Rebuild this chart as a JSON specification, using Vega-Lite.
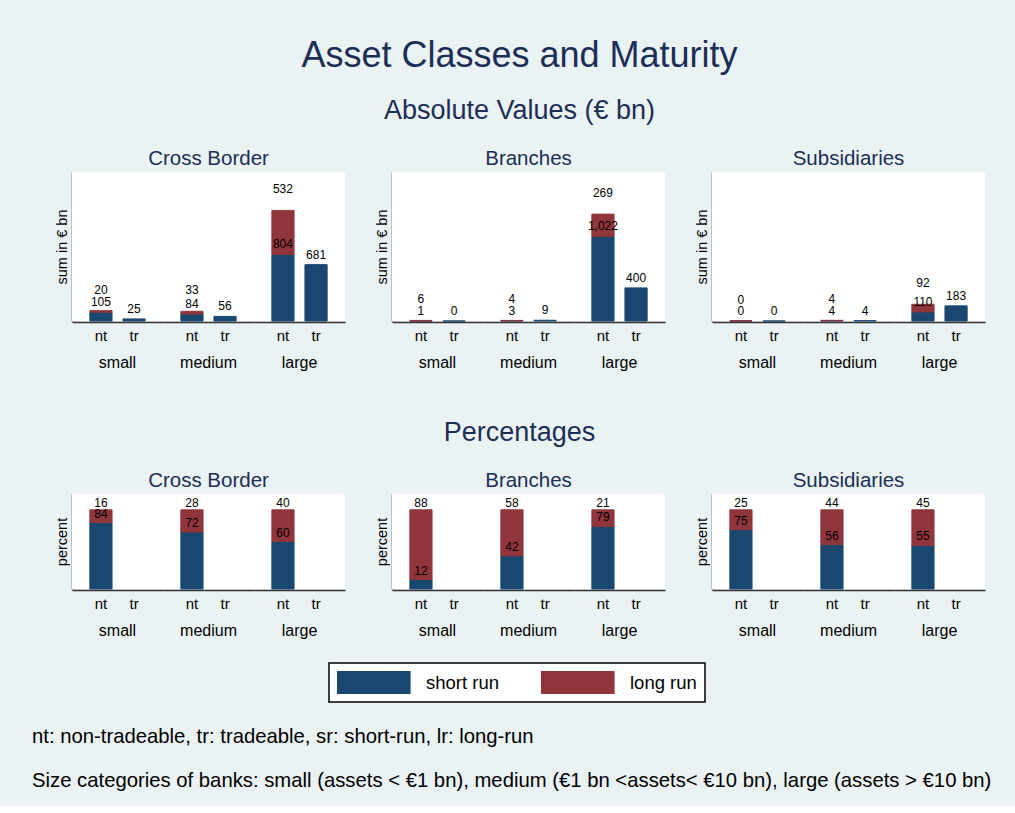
{
  "$schema": "https://vega.github.io/schema/vega-lite/v6.json",
  "background": "#EAF2F3",
  "padding": {"left": 32, "top": 37, "right": 30, "bottom": 14},
  "config": {
    "font": "Liberation Sans",
    "view": {"fill": "white", "stroke": null},
    "title": {"color": "#1C2E55", "fontWeight": "normal", "font": "Liberation Sans", "anchor": "middle"},
    "axis": {"domainColor": "#333333", "domainWidth": 1.5, "ticks": false, "grid": false, "labelColor": "black", "titleColor": "black", "titleFontWeight": "normal", "labelFont": "Liberation Sans", "titleFont": "Liberation Sans"},
    "axisX": {"labelFontSize": 15, "labelAngle": 0, "labelPadding": 6},
    "axisY": {"labels": false, "titleFontSize": 14.5, "titlePadding": 3},
    "header": {"labelFontSize": 16, "labelColor": "black", "labelPadding": 12, "labelFont": "Liberation Sans"},
    "legend": {"orient": "none", "legendX": 257, "legendY": 491, "direction": "horizontal", "fillColor": "white", "strokeColor": "black", "strokeWidth": 1.5, "padding": 8, "symbolType": "M-1,-1H5.4V1H-1Z", "symbolSize": 529, "symbolStrokeWidth": 0, "symbolOpacity": 1, "labelFontSize": 18.5, "labelColor": "black", "labelOffset": 66, "columnPadding": 41, "labelFont": "Liberation Sans"}
  },
  "datasets": {
    "abs": [
      {"panel": "Cross Border", "size": "small", "type": "nt", "run": "short run", "ord": 1, "value": 105},
      {"panel": "Cross Border", "size": "small", "type": "nt", "run": "long run", "ord": 2, "value": 20},
      {"panel": "Cross Border", "size": "small", "type": "tr", "run": "short run", "ord": 1, "value": 25},
      {"panel": "Cross Border", "size": "medium", "type": "nt", "run": "short run", "ord": 1, "value": 84},
      {"panel": "Cross Border", "size": "medium", "type": "nt", "run": "long run", "ord": 2, "value": 33},
      {"panel": "Cross Border", "size": "medium", "type": "tr", "run": "short run", "ord": 1, "value": 56},
      {"panel": "Cross Border", "size": "large", "type": "nt", "run": "short run", "ord": 1, "value": 804},
      {"panel": "Cross Border", "size": "large", "type": "nt", "run": "long run", "ord": 2, "value": 532},
      {"panel": "Cross Border", "size": "large", "type": "tr", "run": "short run", "ord": 1, "value": 681},
      {"panel": "Branches", "size": "small", "type": "nt", "run": "short run", "ord": 1, "value": 1},
      {"panel": "Branches", "size": "small", "type": "nt", "run": "long run", "ord": 2, "value": 6},
      {"panel": "Branches", "size": "small", "type": "tr", "run": "short run", "ord": 1, "value": 0.3},
      {"panel": "Branches", "size": "medium", "type": "nt", "run": "short run", "ord": 1, "value": 3},
      {"panel": "Branches", "size": "medium", "type": "nt", "run": "long run", "ord": 2, "value": 4},
      {"panel": "Branches", "size": "medium", "type": "tr", "run": "short run", "ord": 1, "value": 9},
      {"panel": "Branches", "size": "large", "type": "nt", "run": "short run", "ord": 1, "value": 1022},
      {"panel": "Branches", "size": "large", "type": "nt", "run": "long run", "ord": 2, "value": 269},
      {"panel": "Branches", "size": "large", "type": "tr", "run": "short run", "ord": 1, "value": 400},
      {"panel": "Subsidiaries", "size": "small", "type": "nt", "run": "short run", "ord": 1, "value": 0.2},
      {"panel": "Subsidiaries", "size": "small", "type": "nt", "run": "long run", "ord": 2, "value": 0.4},
      {"panel": "Subsidiaries", "size": "small", "type": "tr", "run": "short run", "ord": 1, "value": 0.3},
      {"panel": "Subsidiaries", "size": "medium", "type": "nt", "run": "short run", "ord": 1, "value": 4},
      {"panel": "Subsidiaries", "size": "medium", "type": "nt", "run": "long run", "ord": 2, "value": 4},
      {"panel": "Subsidiaries", "size": "medium", "type": "tr", "run": "short run", "ord": 1, "value": 4},
      {"panel": "Subsidiaries", "size": "large", "type": "nt", "run": "short run", "ord": 1, "value": 110},
      {"panel": "Subsidiaries", "size": "large", "type": "nt", "run": "long run", "ord": 2, "value": 92},
      {"panel": "Subsidiaries", "size": "large", "type": "tr", "run": "short run", "ord": 1, "value": 183}
    ],
    "pct": [
      {"panel": "Cross Border", "size": "small", "type": "nt", "run": "short run", "ord": 1, "value": 84},
      {"panel": "Cross Border", "size": "small", "type": "nt", "run": "long run", "ord": 2, "value": 16},
      {"panel": "Cross Border", "size": "medium", "type": "nt", "run": "short run", "ord": 1, "value": 72},
      {"panel": "Cross Border", "size": "medium", "type": "nt", "run": "long run", "ord": 2, "value": 28},
      {"panel": "Cross Border", "size": "large", "type": "nt", "run": "short run", "ord": 1, "value": 60},
      {"panel": "Cross Border", "size": "large", "type": "nt", "run": "long run", "ord": 2, "value": 40},
      {"panel": "Branches", "size": "small", "type": "nt", "run": "short run", "ord": 1, "value": 12},
      {"panel": "Branches", "size": "small", "type": "nt", "run": "long run", "ord": 2, "value": 88},
      {"panel": "Branches", "size": "medium", "type": "nt", "run": "short run", "ord": 1, "value": 42},
      {"panel": "Branches", "size": "medium", "type": "nt", "run": "long run", "ord": 2, "value": 58},
      {"panel": "Branches", "size": "large", "type": "nt", "run": "short run", "ord": 1, "value": 79},
      {"panel": "Branches", "size": "large", "type": "nt", "run": "long run", "ord": 2, "value": 21},
      {"panel": "Subsidiaries", "size": "small", "type": "nt", "run": "short run", "ord": 1, "value": 75},
      {"panel": "Subsidiaries", "size": "small", "type": "nt", "run": "long run", "ord": 2, "value": 25},
      {"panel": "Subsidiaries", "size": "medium", "type": "nt", "run": "short run", "ord": 1, "value": 56},
      {"panel": "Subsidiaries", "size": "medium", "type": "nt", "run": "long run", "ord": 2, "value": 44},
      {"panel": "Subsidiaries", "size": "large", "type": "nt", "run": "short run", "ord": 1, "value": 55},
      {"panel": "Subsidiaries", "size": "large", "type": "nt", "run": "long run", "ord": 2, "value": 45}
    ]
  },
  "title": {"text": ["nt: non-tradeable, tr: tradeable, sr: short-run, lr: long-run", "Size categories of banks: small (assets < €1 bn), medium (€1 bn <assets< €10 bn), large (assets > €10 bn)"], "orient": "bottom", "anchor": "start", "color": "black", "fontSize": 20.3, "lineHeight": 44, "offset": 24, "dx": -22},
  "vconcat": [
    {
      "title": {"text": "Asset Classes and Maturity", "fontSize": 36, "offset": 22},
      "spacing": 47,
      "vconcat": [
        {
          "title": {"text": "Absolute Values (€ bn)", "fontSize": 27, "offset": 24},
          "spacing": 29,
          "hconcat": [
            {
              "title": {"text": "Cross Border", "fontSize": 20.5, "offset": 3, "dx": 9, "color": "#1C2E55"},
              "data": {"name": "abs"},
              "transform": [{"filter": "datum.panel === 'Cross Border'"}],
              "facet": {"column": {"field": "size", "type": "nominal", "sort": ["small", "medium", "large"], "header": {"title": null, "labelOrient": "bottom"}}},
              "spacing": 0,
              "spec": {
                "width": 91, "height": 149,
                "layer": [
                  {"mark": {"type": "bar", "strokeWidth": 1},
                   "encoding": {
                     "x": {"field": "type", "type": "nominal", "scale": {"domain": ["nt", "tr"], "paddingInner": 0.33, "paddingOuter": 0.54}, "axis": {"title": null}},
                     "y": {"field": "value", "type": "quantitative", "stack": "zero", "scale": {"domain": [0, 1700]}, "axis": {"title": "sum in € bn"}},
                     "color": {"field": "run", "type": "nominal", "scale": {"domain": ["short run", "long run"], "range": ["#1A476F", "#90353B"]}, "legend": {"title": null}},
                     "stroke": {"field": "run", "type": "nominal", "scale": {"domain": ["short run", "long run"], "range": ["#1A476F", "#90353B"]}, "legend": null},
                     "order": {"field": "ord", "type": "quantitative"}}},
                  {"transform": [{"stack": "value", "groupby": ["size", "type"], "sort": [{"field": "ord", "order": "ascending"}], "as": ["v0", "v1"]}, {"filter": "datum.run === 'short run'"}],
                   "mark": {"type": "text", "dy": -10, "fontSize": 12, "color": "black"},
                   "encoding": {"x": {"field": "type", "type": "nominal"}, "y": {"field": "v1", "type": "quantitative", "axis": {"title": "sum in € bn"}}, "text": {"field": "value", "type": "quantitative", "format": ",.0f"}}},
                  {"transform": [{"stack": "value", "groupby": ["size", "type"], "sort": [{"field": "ord", "order": "ascending"}], "as": ["v0", "v1"]}, {"filter": "datum.run === 'long run'"}],
                   "mark": {"type": "text", "dy": -21, "fontSize": 12, "color": "black"},
                   "encoding": {"x": {"field": "type", "type": "nominal"}, "y": {"field": "v1", "type": "quantitative", "axis": {"title": "sum in € bn"}}, "text": {"field": "value", "type": "quantitative", "format": ",.0f"}}}
                ]
              }
            },
            {
              "title": {"text": "Branches", "fontSize": 20.5, "offset": 3, "dx": 9, "color": "#1C2E55"},
              "data": {"name": "abs"},
              "transform": [{"filter": "datum.panel === 'Branches'"}],
              "facet": {"column": {"field": "size", "type": "nominal", "sort": ["small", "medium", "large"], "header": {"title": null, "labelOrient": "bottom"}}},
              "spacing": 0,
              "spec": {
                "width": 91, "height": 149,
                "layer": [
                  {"mark": {"type": "bar", "strokeWidth": 1},
                   "encoding": {
                     "x": {"field": "type", "type": "nominal", "scale": {"domain": ["nt", "tr"], "paddingInner": 0.33, "paddingOuter": 0.54}, "axis": {"title": null}},
                     "y": {"field": "value", "type": "quantitative", "stack": "zero", "scale": {"domain": [0, 1700]}, "axis": {"title": "sum in € bn"}},
                     "color": {"field": "run", "type": "nominal", "scale": {"domain": ["short run", "long run"], "range": ["#1A476F", "#90353B"]}, "legend": {"title": null}},
                     "stroke": {"field": "run", "type": "nominal", "scale": {"domain": ["short run", "long run"], "range": ["#1A476F", "#90353B"]}, "legend": null},
                     "order": {"field": "ord", "type": "quantitative"}}},
                  {"transform": [{"stack": "value", "groupby": ["size", "type"], "sort": [{"field": "ord", "order": "ascending"}], "as": ["v0", "v1"]}, {"filter": "datum.run === 'short run'"}],
                   "mark": {"type": "text", "dy": -10, "fontSize": 12, "color": "black"},
                   "encoding": {"x": {"field": "type", "type": "nominal"}, "y": {"field": "v1", "type": "quantitative", "axis": {"title": "sum in € bn"}}, "text": {"field": "value", "type": "quantitative", "format": ",.0f"}}},
                  {"transform": [{"stack": "value", "groupby": ["size", "type"], "sort": [{"field": "ord", "order": "ascending"}], "as": ["v0", "v1"]}, {"filter": "datum.run === 'long run'"}],
                   "mark": {"type": "text", "dy": -21, "fontSize": 12, "color": "black"},
                   "encoding": {"x": {"field": "type", "type": "nominal"}, "y": {"field": "v1", "type": "quantitative", "axis": {"title": "sum in € bn"}}, "text": {"field": "value", "type": "quantitative", "format": ",.0f"}}}
                ]
              }
            },
            {
              "title": {"text": "Subsidiaries", "fontSize": 20.5, "offset": 3, "dx": 9, "color": "#1C2E55"},
              "data": {"name": "abs"},
              "transform": [{"filter": "datum.panel === 'Subsidiaries'"}],
              "facet": {"column": {"field": "size", "type": "nominal", "sort": ["small", "medium", "large"], "header": {"title": null, "labelOrient": "bottom"}}},
              "spacing": 0,
              "spec": {
                "width": 91, "height": 149,
                "layer": [
                  {"mark": {"type": "bar", "strokeWidth": 1},
                   "encoding": {
                     "x": {"field": "type", "type": "nominal", "scale": {"domain": ["nt", "tr"], "paddingInner": 0.33, "paddingOuter": 0.54}, "axis": {"title": null}},
                     "y": {"field": "value", "type": "quantitative", "stack": "zero", "scale": {"domain": [0, 1700]}, "axis": {"title": "sum in € bn"}},
                     "color": {"field": "run", "type": "nominal", "scale": {"domain": ["short run", "long run"], "range": ["#1A476F", "#90353B"]}, "legend": {"title": null}},
                     "stroke": {"field": "run", "type": "nominal", "scale": {"domain": ["short run", "long run"], "range": ["#1A476F", "#90353B"]}, "legend": null},
                     "order": {"field": "ord", "type": "quantitative"}}},
                  {"transform": [{"stack": "value", "groupby": ["size", "type"], "sort": [{"field": "ord", "order": "ascending"}], "as": ["v0", "v1"]}, {"filter": "datum.run === 'short run'"}],
                   "mark": {"type": "text", "dy": -10, "fontSize": 12, "color": "black"},
                   "encoding": {"x": {"field": "type", "type": "nominal"}, "y": {"field": "v1", "type": "quantitative", "axis": {"title": "sum in € bn"}}, "text": {"field": "value", "type": "quantitative", "format": ",.0f"}}},
                  {"transform": [{"stack": "value", "groupby": ["size", "type"], "sort": [{"field": "ord", "order": "ascending"}], "as": ["v0", "v1"]}, {"filter": "datum.run === 'long run'"}],
                   "mark": {"type": "text", "dy": -21, "fontSize": 12, "color": "black"},
                   "encoding": {"x": {"field": "type", "type": "nominal"}, "y": {"field": "v1", "type": "quantitative", "axis": {"title": "sum in € bn"}}, "text": {"field": "value", "type": "quantitative", "format": ",.0f"}}}
                ]
              }
            }
          ]
        },
        {
          "title": {"text": "Percentages", "fontSize": 27, "offset": 24},
          "spacing": 29,
          "hconcat": [
            {
              "title": {"text": "Cross Border", "fontSize": 20.5, "offset": 3, "dx": 9, "color": "#1C2E55"},
              "data": {"name": "pct"},
              "transform": [{"filter": "datum.panel === 'Cross Border'"}],
              "facet": {"column": {"field": "size", "type": "nominal", "sort": ["small", "medium", "large"], "header": {"title": null, "labelOrient": "bottom"}}},
              "spacing": 0,
              "spec": {
                "width": 91, "height": 95,
                "layer": [
                  {"mark": {"type": "bar", "strokeWidth": 1},
                   "encoding": {
                     "x": {"field": "type", "type": "nominal", "scale": {"domain": ["nt", "tr"], "paddingInner": 0.33, "paddingOuter": 0.54}, "axis": {"title": null}},
                     "y": {"field": "value", "type": "quantitative", "stack": "zero", "scale": {"domain": [0, 119]}, "axis": {"title": "percent"}},
                     "color": {"field": "run", "type": "nominal", "scale": {"domain": ["short run", "long run"], "range": ["#1A476F", "#90353B"]}, "legend": {"title": null}},
                     "stroke": {"field": "run", "type": "nominal", "scale": {"domain": ["short run", "long run"], "range": ["#1A476F", "#90353B"]}, "legend": null},
                     "order": {"field": "ord", "type": "quantitative"}}},
                  {"transform": [{"stack": "value", "groupby": ["size", "type"], "sort": [{"field": "ord", "order": "ascending"}], "as": ["v0", "v1"]}, {"filter": "datum.run === 'short run'"}],
                   "mark": {"type": "text", "dy": -9, "fontSize": 12, "color": "black"},
                   "encoding": {"x": {"field": "type", "type": "nominal"}, "y": {"field": "v1", "type": "quantitative", "axis": {"title": "percent"}}, "text": {"field": "value", "type": "quantitative", "format": ",.0f"}}},
                  {"transform": [{"stack": "value", "groupby": ["size", "type"], "sort": [{"field": "ord", "order": "ascending"}], "as": ["v0", "v1"]}, {"filter": "datum.run === 'long run'"}],
                   "mark": {"type": "text", "dy": -7, "fontSize": 12, "color": "black"},
                   "encoding": {"x": {"field": "type", "type": "nominal"}, "y": {"field": "v1", "type": "quantitative", "axis": {"title": "percent"}}, "text": {"field": "value", "type": "quantitative", "format": ",.0f"}}}
                ]
              }
            },
            {
              "title": {"text": "Branches", "fontSize": 20.5, "offset": 3, "dx": 9, "color": "#1C2E55"},
              "data": {"name": "pct"},
              "transform": [{"filter": "datum.panel === 'Branches'"}],
              "facet": {"column": {"field": "size", "type": "nominal", "sort": ["small", "medium", "large"], "header": {"title": null, "labelOrient": "bottom"}}},
              "spacing": 0,
              "spec": {
                "width": 91, "height": 95,
                "layer": [
                  {"mark": {"type": "bar", "strokeWidth": 1},
                   "encoding": {
                     "x": {"field": "type", "type": "nominal", "scale": {"domain": ["nt", "tr"], "paddingInner": 0.33, "paddingOuter": 0.54}, "axis": {"title": null}},
                     "y": {"field": "value", "type": "quantitative", "stack": "zero", "scale": {"domain": [0, 119]}, "axis": {"title": "percent"}},
                     "color": {"field": "run", "type": "nominal", "scale": {"domain": ["short run", "long run"], "range": ["#1A476F", "#90353B"]}, "legend": {"title": null}},
                     "stroke": {"field": "run", "type": "nominal", "scale": {"domain": ["short run", "long run"], "range": ["#1A476F", "#90353B"]}, "legend": null},
                     "order": {"field": "ord", "type": "quantitative"}}},
                  {"transform": [{"stack": "value", "groupby": ["size", "type"], "sort": [{"field": "ord", "order": "ascending"}], "as": ["v0", "v1"]}, {"filter": "datum.run === 'short run'"}],
                   "mark": {"type": "text", "dy": -9, "fontSize": 12, "color": "black"},
                   "encoding": {"x": {"field": "type", "type": "nominal"}, "y": {"field": "v1", "type": "quantitative", "axis": {"title": "percent"}}, "text": {"field": "value", "type": "quantitative", "format": ",.0f"}}},
                  {"transform": [{"stack": "value", "groupby": ["size", "type"], "sort": [{"field": "ord", "order": "ascending"}], "as": ["v0", "v1"]}, {"filter": "datum.run === 'long run'"}],
                   "mark": {"type": "text", "dy": -7, "fontSize": 12, "color": "black"},
                   "encoding": {"x": {"field": "type", "type": "nominal"}, "y": {"field": "v1", "type": "quantitative", "axis": {"title": "percent"}}, "text": {"field": "value", "type": "quantitative", "format": ",.0f"}}}
                ]
              }
            },
            {
              "title": {"text": "Subsidiaries", "fontSize": 20.5, "offset": 3, "dx": 9, "color": "#1C2E55"},
              "data": {"name": "pct"},
              "transform": [{"filter": "datum.panel === 'Subsidiaries'"}],
              "facet": {"column": {"field": "size", "type": "nominal", "sort": ["small", "medium", "large"], "header": {"title": null, "labelOrient": "bottom"}}},
              "spacing": 0,
              "spec": {
                "width": 91, "height": 95,
                "layer": [
                  {"mark": {"type": "bar", "strokeWidth": 1},
                   "encoding": {
                     "x": {"field": "type", "type": "nominal", "scale": {"domain": ["nt", "tr"], "paddingInner": 0.33, "paddingOuter": 0.54}, "axis": {"title": null}},
                     "y": {"field": "value", "type": "quantitative", "stack": "zero", "scale": {"domain": [0, 119]}, "axis": {"title": "percent"}},
                     "color": {"field": "run", "type": "nominal", "scale": {"domain": ["short run", "long run"], "range": ["#1A476F", "#90353B"]}, "legend": {"title": null}},
                     "stroke": {"field": "run", "type": "nominal", "scale": {"domain": ["short run", "long run"], "range": ["#1A476F", "#90353B"]}, "legend": null},
                     "order": {"field": "ord", "type": "quantitative"}}},
                  {"transform": [{"stack": "value", "groupby": ["size", "type"], "sort": [{"field": "ord", "order": "ascending"}], "as": ["v0", "v1"]}, {"filter": "datum.run === 'short run'"}],
                   "mark": {"type": "text", "dy": -9, "fontSize": 12, "color": "black"},
                   "encoding": {"x": {"field": "type", "type": "nominal"}, "y": {"field": "v1", "type": "quantitative", "axis": {"title": "percent"}}, "text": {"field": "value", "type": "quantitative", "format": ",.0f"}}},
                  {"transform": [{"stack": "value", "groupby": ["size", "type"], "sort": [{"field": "ord", "order": "ascending"}], "as": ["v0", "v1"]}, {"filter": "datum.run === 'long run'"}],
                   "mark": {"type": "text", "dy": -7, "fontSize": 12, "color": "black"},
                   "encoding": {"x": {"field": "type", "type": "nominal"}, "y": {"field": "v1", "type": "quantitative", "axis": {"title": "percent"}}, "text": {"field": "value", "type": "quantitative", "format": ",.0f"}}}
                ]
              }
            }
          ]
        }
      ]
    }
  ]
}
